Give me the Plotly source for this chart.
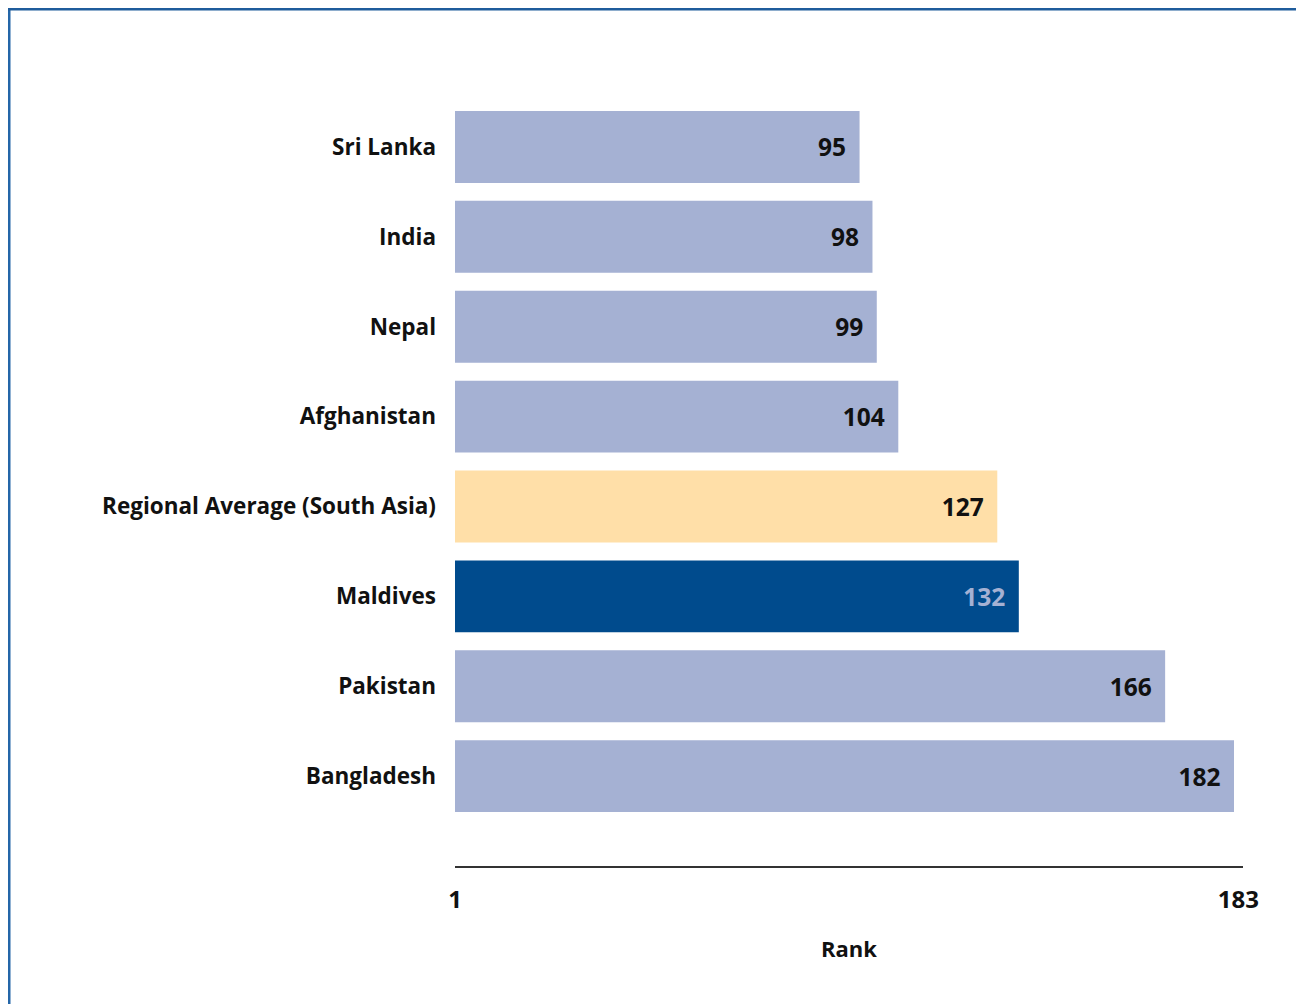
import plotly.graph_objects as go

countries = ["Sri Lanka", "India", "Nepal", "Afghanistan", "Regional Average (South Asia)",
             "Maldives", "Pakistan", "Bangladesh"]
ranks = [95, 98, 99, 104, 127, 132, 166, 182]
bar_colors = ["#A5B1D3", "#A5B1D3", "#A5B1D3", "#A5B1D3", "#FFDFA8", "#004B8D", "#A5B1D3", "#A5B1D3"]
text_colors = ["#111111"] * 5 + ["#A5B1D3"] + ["#111111"] * 2
tick_vals = [1, 183]
tick_text = ["1", "183"]

FONT = "'Open Sans', Lato, sans-serif"

# page body has an 8px margin; work in screen coordinates and convert
OFF = 8
W, H = 1296, 996
L = 455 - OFF
T = 102 - OFF
R = W - (1243 - OFF)
B = H - (866 - OFF)
pw, ph = W - L - R, H - T - B
scale = (1234 - 455) / 181.0

def px(x):
    return (x - OFF - L) / pw

def py(y):
    return (H - B - (y - OFF)) / ph

fig = go.Figure(go.Bar(
    y=countries,
    x=[r - 1 for r in ranks],
    base=1,
    orientation="h",
    marker=dict(color=bar_colors, line=dict(width=0)),
    text=[f"<b>{v}</b>\u00a0\u2009" for v in ranks],
    textposition="inside",
    insidetextanchor="end",
    textangle=0,
    insidetextfont=dict(family=FONT, size=24.5, color=text_colors),
    hoverinfo="skip",
))

fig.update_layout(
    width=W, height=H,
    margin=dict(l=L, r=R, t=T, b=B),
    paper_bgcolor="white", plot_bgcolor="white",
    bargap=0.2,
    showlegend=False,
    font=dict(family=FONT, size=22, color="#111111"),
    xaxis=dict(
        range=[1, 1 + pw / scale],
        tickvals=tick_vals, ticktext=[f"<b>{t}</b>" for t in tick_text],
        showgrid=False, zeroline=False,
        showline=True, linecolor="#333333", linewidth=2,
        ticks="", ticklabelstandoff=11,
        tickfont=dict(family=FONT, size=24, color="#111111"),
        title=dict(text="<b>Rank</b>", font=dict(family=FONT, size=22, color="#111111"), standoff=28),
    ),
    yaxis=dict(
        categoryorder="array", categoryarray=countries,
        range=[8.0, -0.5],
        showgrid=False, zeroline=False, showline=False,
        ticks="", ticklabelstandoff=18,
        tickfont=dict(family=FONT, size=22.5, color="#111111"),
        tickprefix="<b>", ticksuffix="</b>",
    ),
    shapes=[
        dict(type="line", xref="paper", yref="paper", x0=px(9), x1=px(9), y0=py(9), y1=py(1010),
             line=dict(color="#2466A8", width=3)),
        dict(type="line", xref="paper", yref="paper", x0=px(8), x1=px(1303), y0=py(9), y1=py(9),
             line=dict(color="#1F5C9C", width=3)),
        dict(type="line", xref="paper", yref="paper", x0=px(1302.5), x1=px(1302.5), y0=py(10), y1=py(1010),
             line=dict(color="#B8C4D4", width=1.5)),
    ],
)

fig.write_html("out.html")
